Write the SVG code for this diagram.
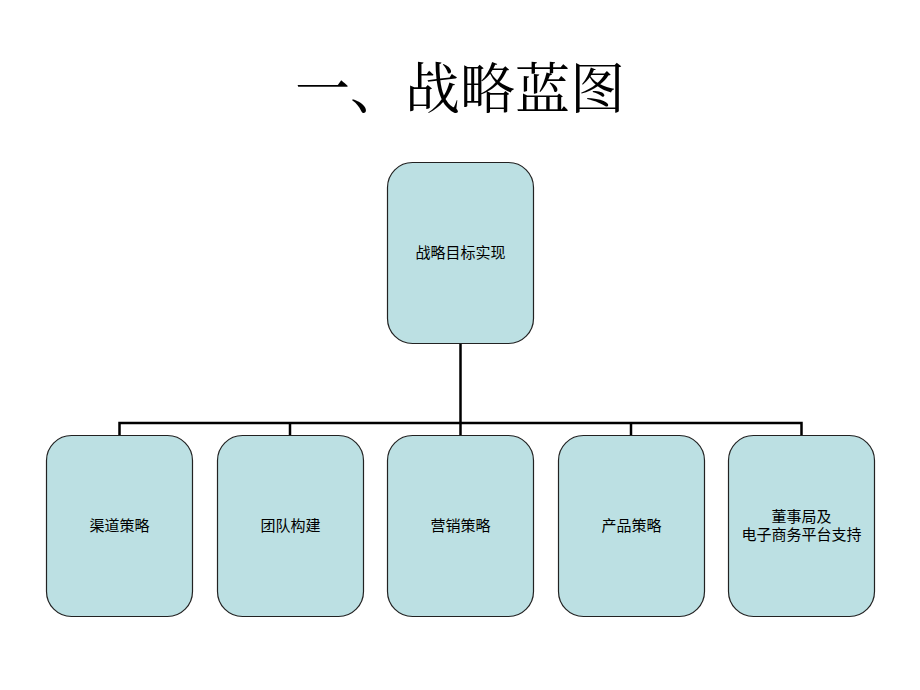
<svg xmlns="http://www.w3.org/2000/svg" width="920" height="690" viewBox="0 0 920 690">
<style>
.node{fill:#BCE0E3;stroke:#222;stroke-width:1.2}
.lbl{font-family:"Liberation Sans","Noto Sans CJK SC",sans-serif;font-size:15px;fill:#000;text-anchor:middle}
.title{font-family:"Liberation Serif","Noto Serif CJK SC","Noto Sans CJK SC",serif;font-size:55px;fill:#000;text-anchor:middle}
.conn{fill:none;stroke:#000;stroke-width:2.5}
</style>
<rect width="920" height="690" fill="#fff"/>
<text class="title" x="460" y="108">一、战略蓝图</text>
<g id="connectors">
<path class="conn" d="M460.5 343 V423"/>
<path class="conn" d="M119.5 435 V423 H801.5 V435"/>
<path class="conn" d="M290 423 V435"/>
<path class="conn" d="M460.5 423 V435"/>
<path class="conn" d="M631 423 V435"/>
</g>
<g id="n0"><rect class="node" x="387.5" y="162.5" width="146" height="181" rx="25"/><text class="lbl" x="460.5" y="258">战略目标实现</text></g>
<g id="n1"><rect class="node" x="46.5" y="435.5" width="146" height="181" rx="25"/><text class="lbl" x="119.5" y="531">渠道策略</text></g>
<g id="n2"><rect class="node" x="217.5" y="435.5" width="146" height="181" rx="25"/><text class="lbl" x="290.5" y="531">团队构建</text></g>
<g id="n3"><rect class="node" x="387.5" y="435.5" width="146" height="181" rx="25"/><text class="lbl" x="460.5" y="531">营销策略</text></g>
<g id="n4"><rect class="node" x="558.5" y="435.5" width="146" height="181" rx="25"/><text class="lbl" x="631.5" y="531">产品策略</text></g>
<g id="n5"><rect class="node" x="728.5" y="435.5" width="146" height="181" rx="25"/><text class="lbl" x="801.5" y="522">董事局及</text><text class="lbl" x="801.5" y="540">电子商务平台支持</text></g>
</svg>
